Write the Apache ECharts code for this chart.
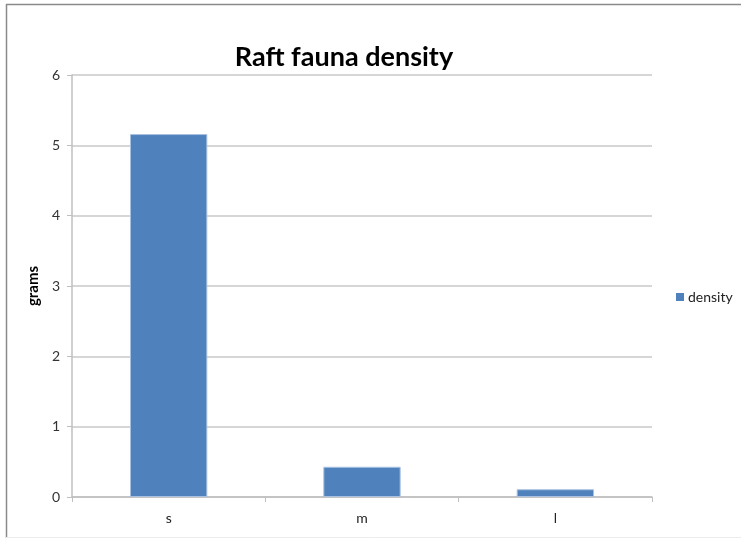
<!DOCTYPE html>
<html>
<head>
<meta charset="utf-8">
<script src="https://cdn.jsdelivr.net/npm/echarts@6/dist/echarts.min.js"></script>
<style>
  html, body { margin: 0; padding: 0; background: #fff; }
  #chart { width: 741px; height: 538px; }
</style>
</head>
<body>
<div id="chart"></div>
<script>
// Raft fauna density by size class
const categories = ['s', 'm', 'l'];
const densityValues = [5.16, 0.43, 0.11];
const yTicks = { min: 0, max: 6, interval: 1 };

const font = 'Lato, "Open Sans", sans-serif';
const chart = echarts.init(document.getElementById('chart'), null, { renderer: 'canvas' });

chart.setOption({
  animation: false,
  backgroundColor: '#ffffff',
  title: {
    text: 'Raft fauna density',
    left: 339,
    top: 39,
    textAlign: 'center',
    textStyle: { fontFamily: font, fontSize: 27, fontWeight: 'bold', color: '#000' }
  },
  legend: {
    data: ['density'],
    left: 676,
    top: 290,
    padding: 0,
    itemWidth: 8,
    itemHeight: 8,
    itemGap: 4,
    icon: 'rect',
    itemStyle: { borderWidth: 0 },
    textStyle: { fontFamily: font, fontSize: 14, color: '#222', padding: [0, 0, 0, -1] }
  },
  grid: { left: 72, right: 89, top: 75, bottom: 41, containLabel: false },
  xAxis: {
    type: 'category',
    data: categories,
    axisLine: { lineStyle: { color: '#bfbfbf', width: 1.5 } },
    axisTick: { show: true, length: 5, alignWithLabel: false, lineStyle: { color: '#bfbfbf' } },
    axisLabel: { fontFamily: font, fontSize: 14, color: '#222', margin: 14 }
  },
  yAxis: {
    type: 'value',
    min: yTicks.min,
    max: yTicks.max,
    interval: yTicks.interval,
    name: 'grams',
    nameLocation: 'middle',
    nameGap: 27,
    nameRotate: 90,
    nameTextStyle: { fontFamily: font, fontSize: 15, fontWeight: 'bold', color: '#000' },
    axisLine: { show: true, lineStyle: { color: '#bfbfbf', width: 1.5 } },
    axisTick: { show: true, length: 5, lineStyle: { color: '#bfbfbf' } },
    axisLabel: { fontFamily: font, fontSize: 14, color: '#333', margin: 12 },
    splitLine: { show: true, lineStyle: { color: '#c8c8c8', width: 1.5 } }
  },
  series: [{
    name: 'density',
    type: 'bar',
    data: densityValues,
    barWidth: '40%',
    itemStyle: { color: '#4f81bd', borderColor: '#a9c1e0', borderWidth: 1 }
  }],
  graphic: [
    { type: 'line', shape: { x1: 6.5, y1: 4, x2: 6.5, y2: 538 }, style: { stroke: '#8a8a8a', lineWidth: 1.5 } },
    { type: 'line', shape: { x1: 6, y1: 4.5, x2: 741, y2: 4.5 }, style: { stroke: '#8a8a8a', lineWidth: 1.5 } },
    { type: 'line', shape: { x1: 6, y1: 537.5, x2: 741, y2: 537.5 }, style: { stroke: '#ececec', lineWidth: 1 } }
  ]
});
</script>
</body>
</html>
